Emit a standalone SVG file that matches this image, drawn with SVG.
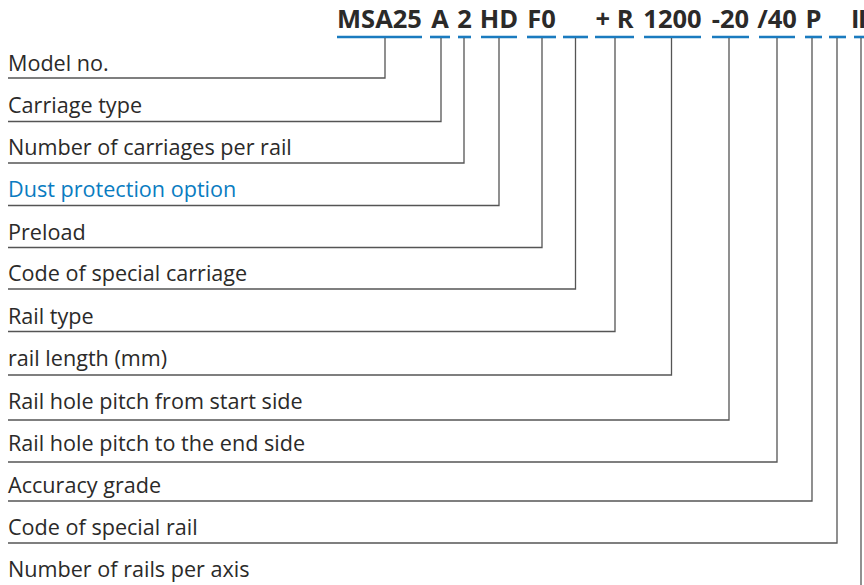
<svg xmlns="http://www.w3.org/2000/svg" width="864" height="585" viewBox="0 0 864 585">
<style>
.code{font-family:"Open Sans","Liberation Sans",sans-serif;font-weight:700;font-size:25.5px;fill:#2b2a29;text-anchor:middle}
.lbl{font-family:"Open Sans","Liberation Sans",sans-serif;font-size:21.6px;fill:#2b2a29}
.blue{fill:#0a7cc1}
.ul{stroke:#1a7bbf;stroke-width:2.6;fill:none}
.con{stroke:#555;stroke-width:1.3;fill:none}
</style>
<rect width="864" height="585" fill="#fff"/>
<g id="code">
<text class="code" x="379.5" y="28">MSA25</text>
<text class="code" x="440" y="28">A</text>
<text class="code" x="464.5" y="28">2</text>
<text class="code" x="499" y="28">HD</text>
<text class="code" x="541.5" y="28">F0</text>
<text class="code" x="614.5" y="28">+ R</text>
<text class="code" x="672.5" y="28">1200</text>
<text class="code" x="730.5" y="28">-20</text>
<text class="code" x="777" y="28">/40</text>
<text class="code" x="813.5" y="28">P</text>
<text class="code" x="851" y="28" style="text-anchor:start;letter-spacing:-1.5px">II</text>
<g class="ul">
<line x1="337" y1="37" x2="422" y2="37"/>
<line x1="430" y1="37" x2="450" y2="37"/>
<line x1="458" y1="37" x2="471" y2="37"/>
<line x1="481" y1="37" x2="517" y2="37"/>
<line x1="527" y1="37" x2="556" y2="37"/>
<line x1="563" y1="37" x2="588" y2="37"/>
<line x1="595" y1="37" x2="634" y2="37"/>
<line x1="644" y1="37" x2="701" y2="37"/>
<line x1="712" y1="37" x2="749" y2="37"/>
<line x1="759" y1="37" x2="795" y2="37"/>
<line x1="805" y1="37" x2="822" y2="37"/>
<line x1="829" y1="37" x2="846" y2="37"/>
<line x1="854" y1="37" x2="864" y2="37"/>
</g>
</g>
<g id="connectors" class="con">
<polyline points="385,38 385,78 8,78"/>
<polyline points="441,38 441,121.5 8,121.5"/>
<polyline points="464,38 464,163 8,163"/>
<polyline points="499,38 499,205.5 8,205.5"/>
<polyline points="542,38 542,247.5 8,247.5"/>
<polyline points="575.5,38 575.5,289 8,289"/>
<polyline points="615,38 615,331.5 8,331.5"/>
<polyline points="671.5,38 671.5,375 8,375"/>
<polyline points="729,38 729,420 8,420"/>
<polyline points="777,38 777,462 8,462"/>
<polyline points="812,38 812,501 8,501"/>
<polyline points="837,38 837,543 8,543"/>
<polyline points="861,38 861,585"/>
</g>
<g id="n1"><text class="lbl" x="8" y="70.5">Model no.</text></g>
<g id="n2"><text class="lbl" x="8" y="113">Carriage type</text></g>
<g id="n3"><text class="lbl" x="8" y="155">Number of carriages per rail</text></g>
<g id="n4"><text class="lbl blue" x="8" y="197">Dust protection option</text></g>
<g id="n5"><text class="lbl" x="8" y="239.5">Preload</text></g>
<g id="n6"><text class="lbl" x="8" y="281">Code of special carriage</text></g>
<g id="n7"><text class="lbl" x="8" y="323.5">Rail type</text></g>
<g id="n8"><text class="lbl" x="8" y="366">rail length (mm)</text></g>
<g id="n9"><text class="lbl" x="8" y="409">Rail hole pitch from start side</text></g>
<g id="n10"><text class="lbl" x="8" y="451">Rail hole pitch to the end side</text></g>
<g id="n11"><text class="lbl" x="8" y="493">Accuracy grade</text></g>
<g id="n12"><text class="lbl" x="8" y="535">Code of special rail</text></g>
<g id="n13"><text class="lbl" x="8" y="577">Number of rails per axis</text></g>
</svg>
